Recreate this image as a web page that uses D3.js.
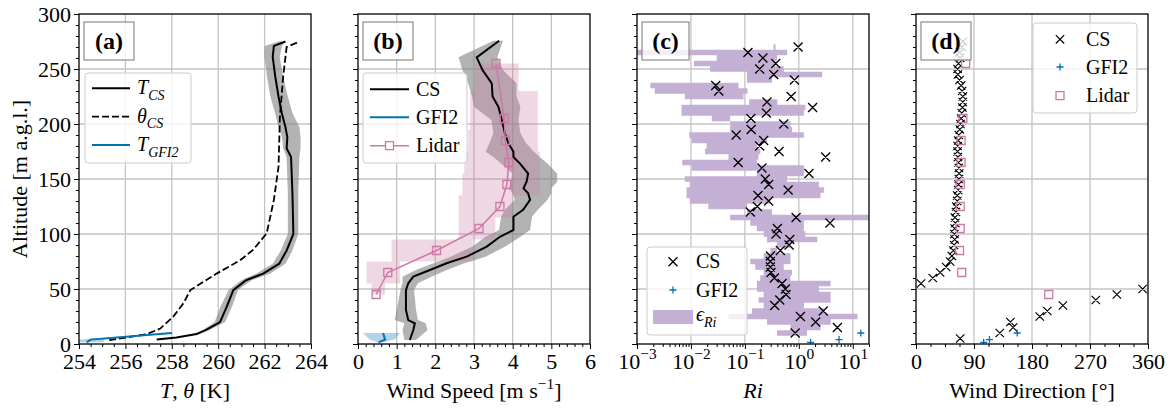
<!DOCTYPE html>
<html>
<head>
<meta charset="utf-8">
<script src="https://cdn.jsdelivr.net/npm/d3@7"></script>
<style>
  body { margin: 0; background: #fff; }
  svg { display: block; }
  text { font-family: "Liberation Serif", "DejaVu Serif", serif; fill: #000; }
</style>
</head>
<body>
<svg id="fig" width="1171" height="410"></svg>
<script>
// ---- (a) temperature ----
const tcsAlt = [4, 6, 9, 13, 20, 34, 49, 58, 64, 73, 85, 100, 137, 170, 178, 188, 197, 210, 225, 243, 261, 271, 275];
const tcsVal = [257.35, 258.2, 259.07, 259.5, 260.08, 260.37, 260.65, 261.2, 261.94, 262.63, 262.95, 263.24, 263.2, 263.14, 262.95, 262.98, 262.9, 262.74, 262.6, 262.46, 262.35, 262.4, 262.9];
const tcsLo = [257.3, 258.1, 258.95, 259.35, 259.85, 260.1, 260.45, 261.0, 261.65, 262.35, 262.7, 263.0, 263.0, 262.95, 262.8, 262.75, 262.6, 262.45, 262.25, 262.1, 262.0, 262.0, 262.6];
const tcsHi = [257.4, 258.3, 259.2, 259.65, 260.3, 260.6, 260.85, 261.45, 262.25, 262.9, 263.2, 263.45, 263.45, 263.5, 263.55, 263.55, 263.5, 263.2, 263.0, 262.8, 262.65, 262.75, 262.9];
const thAlt = [3.6, 4.5, 8.8, 14, 25, 37, 49, 64, 76, 85.5, 100.6, 131, 161, 206.6, 243, 270, 274];
const thVal = [255.3, 255.6, 256.9, 257.5, 258.07, 258.5, 258.8, 259.93, 260.94, 261.5, 262.09, 262.4, 262.6, 262.66, 262.8, 262.95, 263.4];
const gfiAlt = [1.5, 4, 10];
const gfiT = [254.33, 254.5, 258.0];
const gfiTLo = [254.0, 254.0, 257.9];
const gfiTHi = [255.05, 255.1, 258.2];

// ---- (b) wind speed ----
const wsAlt = [3.6, 12.7, 18.8, 21.8, 31, 49, 55.2, 61.2, 67.3, 73.4, 79.4, 88.5, 97.5, 103.6, 115.7, 122, 131, 137, 141.5, 147.5, 155, 164, 170, 174.8, 182.4, 191.5, 203.6, 215.7, 225, 237, 249, 260.6, 275.7];
const wsVal = [1.34, 1.43, 1.47, 1.30, 1.24, 1.24, 1.30, 1.43, 1.86, 2.29, 2.81, 3.33, 3.67, 4.02, 4.02, 4.27, 4.45, 4.40, 4.28, 4.36, 4.40, 4.19, 4.02, 4.02, 3.89, 3.80, 3.72, 3.63, 3.48, 3.46, 3.22, 3.07, 3.65];
const wsLo = [1.2, 1.15, 1.2, 0.95, 1.0, 1.1, 1.15, 1.15, 1.5, 1.95, 2.4, 2.95, 3.3, 3.65, 3.7, 3.8, 4.05, 4.0, 3.9, 3.95, 4.0, 3.7, 3.5, 3.3, 3.4, 3.5, 3.45, 3.0, 2.95, 2.85, 2.7, 2.6, 3.5];
const wsHi = [1.5, 1.8, 1.75, 1.55, 1.5, 1.45, 1.55, 1.9, 2.3, 2.75, 3.3, 3.8, 4.2, 4.45, 4.5, 4.65, 4.9, 5.0, 5.0, 5.15, 5.15, 4.9, 4.7, 4.55, 4.35, 4.2, 4.15, 4.2, 4.1, 4.1, 3.75, 3.6, 3.75];
const gfiWs = [0.53, 0.70, 0.65];
const gfiWsLo = [0.5, 0.3, 0.13];
const gfiWsHi = [0.62, 0.95, 1.09];
const lidarAlt = [45, 65, 85, 105, 125, 145, 165, 185, 205, 255];
const lidarWs = [0.47, 0.77, 2.03, 3.13, 3.67, 3.85, 3.90, 3.81, 3.78, 3.57];
const lidarWsLo = [0.35, 0.22, 0.87, 2.6, 2.6, 2.7, 2.75, 2.85, 2.9, 3.03];
const lidarWsHi = [0.70, 1.09, 2.97, 3.55, 4.0, 4.7, 4.7, 4.65, 4.65, 4.15];

// ---- (c) Richardson number ----
const riAlt = [10, 15, 20, 25, 30, 35, 40, 45, 50, 55, 60, 65, 70, 75, 80, 85, 90, 95, 100, 105, 110, 115, 120, 125, 130, 135, 140, 145, 150, 155, 160, 165, 170, 175, 180, 185, 190, 195, 200, 205, 210, 215, 220, 225, 230, 235, 240, 245, 250, 255, 260, 265, 270];
const riVal = [0.855, 5.18, 2.05, 1.07, 2.84, 0.357, 0.443, 0.58, 0.564, 0.489, 0.352, 0.305, 0.297, 0.297, 0.297, 0.455, 0.66, 0.68, 0.378, 0.40, 3.78, 0.89, 0.126, 0.170, 0.276, 0.175, 0.633, 0.276, 0.239, 1.54, 0.207, 0.075, 3.14, 0.430, 0.188, 0.223, 0.069, 0.131, 0.525, 0.129, 0.250, 1.80, 0.257, 0.72, 0.0328, 0.0288, 0.83, 0.342, 0.188, 0.373, 0.216, 0.114, 0.97];
const riLo = [0.394, 0.70, 0.257, 0.0496, 0.135, 0.223, 0.179, 0.223, 0.167, 0.167, 0.193, 0.223, 0.156, 0.126, 0.223, 0.297, 0.394, 0.257, 0.223, 0.167, 0.126, 0.0533, 0.109, 0.021, 0.0095, 0.0083, 0.0083, 0.0095, 0.0077, 0.167, 0.0103, 0.0069, 0.0496, 0.0182, 0.0196, 0.0103, 0.0093, 0.0533, 0.0533, 0.0243, 0.0067, 0.0067, 0.12, 0.0077, 0.00213, 0.00177, 0.109, 0.109, 0.0226, 0.0114, 0.030, 0.0005, 0.34];
const riHi = [1.42, 2.53, 3.89, 12.2, 2.92, 1.24, 3.89, 3.89, 2.36, 3.89, 0.70, 0.75, 0.525, 0.70, 0.70, 0.394, 0.70, 2.2, 1.33, 1.24, 1.24, 25, 0.318, 0.109, 0.297, 2.53, 2.92, 2.36, 0.607, 1.24, 1.24, 0.167, 0.179, 0.193, 0.167, 0.257, 1.24, 0.75, 0.70, 0.0533, 1.24, 1.33, 0.40, 0.0944, 0.112, 0.0762, 0.318, 2.71, 0.525, 0.367, 0.394, 0.607, 0.37];
const gfiRi = [1.65, 5.56, 14.1];

// ---- (d) wind direction ----
const dirAlt = [5, 10, 15, 20, 25, 30, 35, 40, 45, 50, 55, 60, 65, 70, 75, 80, 85, 90, 95, 100, 105, 110, 115, 120, 125, 130, 135, 140, 145, 150, 155, 160, 165, 170, 175, 180, 185, 190, 195, 200, 205, 210, 215, 220, 225, 230, 235, 240, 245, 250, 255, 260, 265, 270, 275];
const dirVal = [68.6, 130, 150.7, 146.5, 192, 203.7, 228, 279, 311.7, 351.7, 7.8, 26, 37.4, 46.8, 53, 55.6, 58, 59, 60, 59.5, 60, 61, 60.5, 62, 62.5, 64, 64, 65.5, 66, 66.5, 67, 66.5, 66, 65, 64.5, 64.5, 65.5, 66.5, 68, 69, 70, 71, 72, 72.5, 72.7, 71.5, 70, 67.5, 65, 64.4, 66, 68.5, 67.5, 71, 73];
const gfiDir = [105, 114, 157];
const lidarDir = [206, 71, 67.5, 68.6, 68.6, 68.6, 70, 70, 72.7, 77];

const BLUE = "#0072b2", PINK = "#cc79a7", PURPLE = "#c5b0d5";

const svg = d3.select("#fig");
const Y0 = 344, Y1 = 14, PW = 232;
const lefts = [79, 358, 637, 916];
const ya = d3.scaleLinear().domain([0, 300]).range([Y0, Y1]);
const xa = d3.scaleLinear().domain([254, 264]).range([lefts[0], lefts[0] + PW]);
const xb = d3.scaleLinear().domain([0, 6]).range([lefts[1], lefts[1] + PW]);
const xc = d3.scaleLog().domain([1e-3, 20]).range([lefts[2], lefts[2] + PW]);
const xd = d3.scaleLinear().domain([0, 360]).range([lefts[3], lefts[3] + PW]);

const gridCol = "#c4c4c4";
const yMajors = [0, 50, 100, 150, 200, 250, 300];
const yMinors = d3.range(0, 301, 10).filter(v => v % 50 !== 0);

function rich(t, parts, fs) {
  let shift = 0;
  parts.forEach(p => {
    const sp = t.append("tspan").text(p.t);
    let target = 0;
    if (p.sub) { target = 0.28 * fs; sp.attr("font-size", fs * 0.7); }
    if (p.sup) { target = -0.42 * fs; sp.attr("font-size", fs * 0.7); }
    if (p.it) sp.attr("font-style", "italic");
    if (target !== shift) { sp.attr("dy", target - shift); shift = target; }
  });
  return t;
}

function grid(i, x, majors) {
  const g = svg.append("g");
  g.selectAll(null).data(majors).enter().append("line")
    .attr("x1", d => x(d)).attr("x2", d => x(d)).attr("y1", Y1).attr("y2", Y0)
    .attr("stroke", gridCol).attr("stroke-width", 1.3);
  g.selectAll(null).data(yMajors.slice(1, -1)).enter().append("line")
    .attr("x1", lefts[i]).attr("x2", lefts[i] + PW).attr("y1", d => ya(d)).attr("y2", d => ya(d))
    .attr("stroke", gridCol).attr("stroke-width", 1.3);
  svg.append("clipPath").attr("id", "clip" + i).append("rect")
    .attr("x", lefts[i]).attr("y", Y1).attr("width", PW).attr("height", Y0 - Y1);
  return svg.append("g").attr("clip-path", `url(#clip${i})`);
}

function axes(i, x, majors, minors, fmt, showY) {
  const bx = svg.append("g").attr("transform", `translate(0,${Y0})`)
    .call(d3.axisBottom(x).tickValues(majors).tickSize(5).tickSizeOuter(0).tickPadding(4).tickFormat(fmt));
  bx.select(".domain").remove();
  bx.selectAll("text").attr("font-size", 22).attr("font-family", "Liberation Serif");
  const mx = svg.append("g").attr("transform", `translate(0,${Y0})`)
    .call(d3.axisBottom(x).tickValues(minors).tickSize(3).tickSizeOuter(0).tickFormat(""));
  mx.select(".domain").remove();
  const ly = svg.append("g").attr("transform", `translate(${lefts[i]},0)`)
    .call(d3.axisLeft(ya).tickValues(yMajors).tickSize(5).tickSizeOuter(0).tickPadding(3)
      .tickFormat(showY ? d3.format("d") : ""));
  ly.select(".domain").remove();
  ly.selectAll("text").attr("font-size", 22).attr("font-family", "Liberation Serif");
  const my = svg.append("g").attr("transform", `translate(${lefts[i]},0)`)
    .call(d3.axisLeft(ya).tickValues(yMinors).tickSize(3).tickSizeOuter(0).tickFormat(""));
  my.select(".domain").remove();
  svg.selectAll(".tick line").attr("stroke", "#000").attr("stroke-width", 1);
  svg.append("rect").attr("x", lefts[i]).attr("y", Y1).attr("width", PW).attr("height", Y0 - Y1)
    .attr("fill", "none").attr("stroke", "#000").attr("stroke-width", 1.3);
  return bx;
}

function panelLabel(i, s, w) {
  const x = lefts[i] + 5;
  svg.append("rect").attr("x", x).attr("y", 22).attr("width", w).attr("height", 38)
    .attr("fill", "#fff").attr("fill-opacity", 0.8).attr("stroke", "#8c8c8c").attr("stroke-width", 1.2);
  svg.append("text").attr("x", x + w / 2).attr("y", 49).attr("text-anchor", "middle")
    .attr("font-size", 24).attr("font-weight", "bold").text(s);
}

function legendBox(x, y, w, h) {
  const g = svg.append("g");
  g.append("rect").attr("x", x).attr("y", y).attr("width", w).attr("height", h).attr("rx", 3)
    .attr("fill", "#fff").attr("fill-opacity", 0.8).attr("stroke", "#cccccc").attr("stroke-width", 1);
  return g;
}

function xLabel(i, parts) {
  rich(svg.append("text").attr("x", lefts[i] + PW / 2).attr("y", 398).attr("text-anchor", "middle")
    .attr("font-size", 22), parts, 22);
}

const lineV = (alt, val, x) => d3.line().x((d, k) => x(val[k])).y((d, k) => ya(alt[k]))(alt);
const bandV = (alt, lo, hi, x) => d3.area().x0((d, k) => x(lo[k])).x1((d, k) => x(hi[k])).y((d, k) => ya(alt[k]))(alt);
const xPath = (pts, r) => pts.map(([x, y]) => `M${x - r},${y - r}L${x + r},${y + r}M${x - r},${y + r}L${x + r},${y - r}`).join("");
const plusPath = (pts, r) => pts.map(([x, y]) => `M${x - r},${y}H${x + r}M${x},${y - r}V${y + r}`).join("");
const sqPath = (pts, r) => pts.map(([x, y]) => `M${x - r},${y - r}h${2 * r}v${2 * r}h${-2 * r}Z`).join("");

function stepMid(alt, lo, hi, x) {
  const n = alt.length;
  const edges = alt.map((a, k) => [k === 0 ? a : (alt[k - 1] + a) / 2, k === n - 1 ? a : (a + alt[k + 1]) / 2]);
  const pts = [];
  edges.forEach((e, k) => { pts.push([x(lo[k]), ya(e[0])], [x(lo[k]), ya(e[1])]); });
  for (let k = n - 1; k >= 0; k--) pts.push([x(hi[k]), ya(edges[k][1])], [x(hi[k]), ya(edges[k][0])]);
  return "M" + pts.map(p => p.join(",")).join("L") + "Z";
}

// ================= (a) =================
const pa = grid(0, xa, [256, 258, 260, 262]);
pa.append("path").attr("d", bandV(tcsAlt, tcsLo, tcsHi, xa)).attr("fill", "#808080").attr("fill-opacity", 0.6);
pa.append("path").attr("d", bandV(gfiAlt, gfiTLo, gfiTHi, xa)).attr("fill", BLUE).attr("fill-opacity", 0.3);
pa.append("path").attr("d", lineV(tcsAlt, tcsVal, xa)).attr("fill", "none").attr("stroke", "#000").attr("stroke-width", 2);
pa.append("path").attr("d", lineV(thAlt, thVal, xa)).attr("fill", "none").attr("stroke", "#000").attr("stroke-width", 1.8).attr("stroke-dasharray", "7,3");
pa.append("path").attr("d", lineV(gfiAlt, gfiT, xa)).attr("fill", "none").attr("stroke", BLUE).attr("stroke-width", 2);
axes(0, xa, [254, 256, 258, 260, 262, 264], d3.range(254, 264.01, 0.5).filter(v => v % 2 !== 0), d3.format("d"), true);
panelLabel(0, "(a)", 50);
{
  const g = legendBox(85, 73, 106, 90);
  const rows = [88.3, 116.7, 145];
  g.append("line").attr("x1", 92).attr("x2", 130).attr("y1", rows[0]).attr("y2", rows[0]).attr("stroke", "#000").attr("stroke-width", 2);
  g.append("line").attr("x1", 92).attr("x2", 130).attr("y1", rows[1]).attr("y2", rows[1]).attr("stroke", "#000").attr("stroke-width", 1.8).attr("stroke-dasharray", "7,3");
  g.append("line").attr("x1", 92).attr("x2", 130).attr("y1", rows[2]).attr("y2", rows[2]).attr("stroke", BLUE).attr("stroke-width", 2);
  rich(g.append("text").attr("x", 137).attr("y", rows[0] + 6).attr("font-size", 20), [{ t: "T", it: 1 }, { t: "CS", it: 1, sub: 1 }], 20);
  rich(g.append("text").attr("x", 137).attr("y", rows[1] + 6).attr("font-size", 20), [{ t: "θ", it: 1 }, { t: "CS", it: 1, sub: 1 }], 20);
  rich(g.append("text").attr("x", 137).attr("y", rows[2] + 6).attr("font-size", 20), [{ t: "T", it: 1 }, { t: "GFI2", it: 1, sub: 1 }], 20);
}
xLabel(0, [{ t: "T", it: 1 }, { t: ", " }, { t: "θ", it: 1 }, { t: " [K]" }]);
svg.append("text").attr("transform", `translate(27,${(Y0 + Y1) / 2}) rotate(-90)`).attr("text-anchor", "middle")
  .attr("font-size", 22).text("Altitude [m a.g.l.]");

// ================= (b) =================
const pb = grid(1, xb, [1, 2, 3, 4, 5]);
pb.append("path").attr("d", bandV(wsAlt, wsLo, wsHi, xb)).attr("fill", "#808080").attr("fill-opacity", 0.6);
pb.append("path").attr("d", stepMid(lidarAlt, lidarWsLo, lidarWsHi, xb)).attr("fill", PINK).attr("fill-opacity", 0.3);
pb.append("path").attr("d", bandV(gfiAlt, gfiWsLo, gfiWsHi, xb)).attr("fill", BLUE).attr("fill-opacity", 0.3);
pb.append("path").attr("d", lineV(wsAlt, wsVal, xb)).attr("fill", "none").attr("stroke", "#000").attr("stroke-width", 2);
pb.append("path").attr("d", lineV(gfiAlt, gfiWs, xb)).attr("fill", "none").attr("stroke", BLUE).attr("stroke-width", 2);
pb.append("path").attr("d", lineV(lidarAlt, lidarWs, xb)).attr("fill", "none").attr("stroke", PINK).attr("stroke-width", 1.5);
pb.append("path").attr("d", sqPath(lidarAlt.map((a, k) => [xb(lidarWs[k]), ya(a)]), 4)).attr("fill", "none").attr("stroke", PINK).attr("stroke-width", 1.3);
axes(1, xb, [0, 1, 2, 3, 4, 5, 6], d3.range(0, 6.01, 0.2).filter(v => Math.abs(v - Math.round(v)) > 0.01), d3.format("d"), false);
panelLabel(1, "(b)", 50);
{
  const g = legendBox(363, 73, 104, 90);
  const rows = [89.3, 117.3, 145.7];
  g.append("line").attr("x1", 370).attr("x2", 409).attr("y1", rows[0]).attr("y2", rows[0]).attr("stroke", "#000").attr("stroke-width", 2);
  g.append("line").attr("x1", 370).attr("x2", 409).attr("y1", rows[1]).attr("y2", rows[1]).attr("stroke", BLUE).attr("stroke-width", 2);
  g.append("line").attr("x1", 370).attr("x2", 409).attr("y1", rows[2]).attr("y2", rows[2]).attr("stroke", PINK).attr("stroke-width", 1.5);
  g.append("path").attr("d", sqPath([[389.5, rows[2]]], 4)).attr("fill", "#fff").attr("stroke", PINK).attr("stroke-width", 1.3);
  ["CS", "GFI2", "Lidar"].forEach((s, k) => g.append("text").attr("x", 416).attr("y", rows[k] + 6.5).attr("font-size", 20).text(s));
}
xLabel(1, [{ t: "Wind Speed [m s" }, { t: "−1", sup: 1 }, { t: "]" }]);

// ================= (c) =================
const pc = grid(2, xc, [1e-2, 1e-1, 1, 10]);
pc.append("path")
  .attr("d", riAlt.map((a, k) => `M${xc(riLo[k])},${ya(a + 2.5)}H${xc(riHi[k])}V${ya(a - 2.5)}H${xc(riLo[k])}Z`).join(""))
  .attr("fill", PURPLE);
pc.append("path").attr("d", xPath(riAlt.map((a, k) => [xc(riVal[k]), ya(a)]), 4.5)).attr("fill", "none").attr("stroke", "#000").attr("stroke-width", 1.3);
pc.append("path").attr("d", plusPath(gfiAlt.map((a, k) => [xc(gfiRi[k]), ya(a)]), 3.5)).attr("fill", "none").attr("stroke", BLUE).attr("stroke-width", 1.3);
{
  const majors = [1e-3, 1e-2, 1e-1, 1, 10];
  const minors = [];
  [1e-3, 1e-2, 1e-1, 1, 10].forEach(dec => { for (let m = 2; m <= 9; m++) if (dec * m <= 20) minors.push(dec * m); });
  const bx = axes(2, xc, majors, minors, () => "", false);
  bx.selectAll(".tick text").each(function (d) {
    const e = Math.round(Math.log10(d));
    rich(d3.select(this), [{ t: "10" }, { t: (e < 0 ? "−" : "") + Math.abs(e), sup: 1 }], 22);
  });
}
panelLabel(2, "(c)", 47);
{
  const g = legendBox(647, 247, 100, 88);
  const rows = [261.7, 290, 317];
  g.append("path").attr("d", xPath([[673, rows[0]]], 4.5)).attr("fill", "none").attr("stroke", "#000").attr("stroke-width", 1.3);
  g.append("path").attr("d", plusPath([[673, rows[1]]], 3.5)).attr("fill", "none").attr("stroke", BLUE).attr("stroke-width", 1.3);
  g.append("rect").attr("x", 653).attr("y", rows[2] - 7).attr("width", 40).attr("height", 14).attr("fill", PURPLE);
  g.append("text").attr("x", 696).attr("y", rows[0] + 6.5).attr("font-size", 20).text("CS");
  g.append("text").attr("x", 696).attr("y", rows[1] + 6.5).attr("font-size", 20).text("GFI2");
  rich(g.append("text").attr("x", 696).attr("y", rows[2] + 4).attr("font-size", 20), [{ t: "ϵ", it: 1 }, { t: "Ri", it: 1, sub: 1 }], 20);
}
xLabel(2, [{ t: "Ri", it: 1 }]);

// ================= (d) =================
const pd = grid(3, xd, [90, 180, 270]);
pd.append("path").attr("d", xPath(dirAlt.map((a, k) => [xd(dirVal[k]), ya(a)]), 4.2)).attr("fill", "none").attr("stroke", "#000").attr("stroke-width", 1.2);
pd.append("path").attr("d", plusPath(gfiAlt.map((a, k) => [xd(gfiDir[k]), ya(a)]), 3.5)).attr("fill", "none").attr("stroke", BLUE).attr("stroke-width", 1.3);
pd.append("path").attr("d", sqPath(lidarAlt.map((a, k) => [xd(lidarDir[k]), ya(a)]), 4)).attr("fill", "none").attr("stroke", PINK).attr("stroke-width", 1.3);
axes(3, xd, [0, 90, 180, 270, 360], d3.range(0, 360.1, 22.5).filter(v => v % 90 !== 0), d3.format("d"), false);
panelLabel(3, "(d)", 50);
{
  const g = legendBox(1033, 23, 104, 90);
  const rows = [39.3, 67, 95.7];
  g.append("path").attr("d", xPath([[1060, rows[0]]], 4.2)).attr("fill", "none").attr("stroke", "#000").attr("stroke-width", 1.2);
  g.append("path").attr("d", plusPath([[1060, rows[1]]], 3.5)).attr("fill", "none").attr("stroke", BLUE).attr("stroke-width", 1.3);
  g.append("path").attr("d", sqPath([[1060, rows[2]]], 4)).attr("fill", "none").attr("stroke", PINK).attr("stroke-width", 1.3);
  ["CS", "GFI2", "Lidar"].forEach((s, k) => g.append("text").attr("x", 1086).attr("y", rows[k] + 6.5).attr("font-size", 20).text(s));
}
xLabel(3, [{ t: "Wind Direction [°]" }]);
</script>
</body>
</html>
